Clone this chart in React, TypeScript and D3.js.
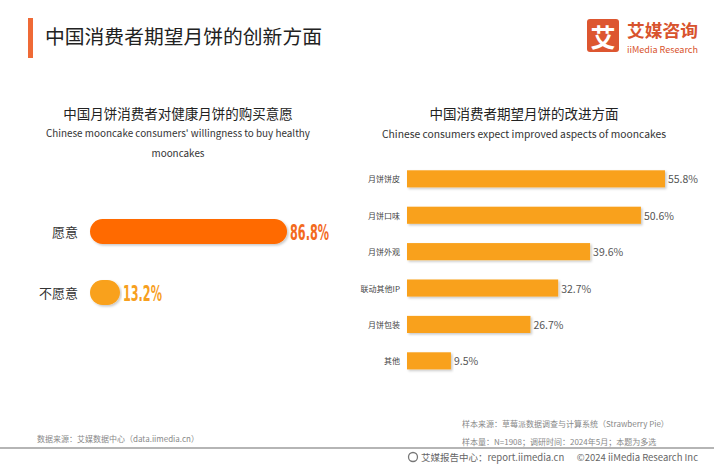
import * as d3 from "d3";

const willingCats = ["愿意", "不愿意"];
const willingVals = [86.8, 13.2];
const willingColors = ["#FF6B06", "#F9A11B"];
const willingTextColors = ["#F36A1E", "#F7A01E"];

const aspectCats = ["月饼饼皮", "月饼口味", "月饼外观", "联动其他IP", "月饼包装", "其他"];
const aspectVals = [55.8, 50.6, 39.6, 32.7, 26.7, 9.5];

const FONT = "'Noto Sans CJK SC', 'Noto Sans', sans-serif";
const W = 714;
const H = 464;

export default function App() {
  // left chart scales
  const xL = d3.scaleLinear().domain([0, 100]).range([90, 317]);
  const yL = d3.scalePoint<string>().domain(willingCats).range([231.5, 292.5]);
  const barH = 25;

  // right chart scales
  const xR = d3.scaleLinear().domain([0, 60]).range([407, 407 + 277.4]);
  const yR = d3
    .scaleBand<string>()
    .domain(aspectCats)
    .range([151, 151 + 36.4 * 6.53])
    .padding(0.53);

  return (
    <div style={{ position: "fixed", left: 0, top: 0 }}>
      <svg width={W} height={H} style={{ display: "block", fontFamily: FONT }}>
        <defs>
          <filter id="shadow" x="-5%" y="-30%" width="110%" height="180%">
            <feDropShadow dx="1.5" dy="1.5" stdDeviation="1.2" floodColor="#000" floodOpacity="0.22" />
          </filter>
        </defs>
        <rect width={W} height={H} fill="#fff" />

        {/* header */}
        <rect x={28} y={18} width={5} height={40} fill="#EF6A36" />
        <text x={45} y={35} dominantBaseline="central" fontSize={19.8} fill="#222">
          中国消费者期望月饼的创新方面
        </text>

        {/* logo */}
        <rect x={587} y={19} width={32} height={33} rx={3} fill="#DD5630" />
        <text x={603} y={36} textAnchor="middle" dominantBaseline="central" fontSize={25} fontWeight={700} fill="#fff">
          艾
        </text>
        <text x={627} y={29.5} dominantBaseline="central" fontSize={16.5} fontWeight={700} fill="#D8532D" textLength={71} lengthAdjust="spacingAndGlyphs">
          艾媒咨询
        </text>
        <text x={627} y={49.5} dominantBaseline="central" fontSize={9} fill="#D8532D" textLength={71} lengthAdjust="spacingAndGlyphs">
          iiMedia Research
        </text>

        {/* left subtitles */}
        <text x={178} y={113} textAnchor="middle" dominantBaseline="central" fontSize={13.5} fill="#222">
          中国月饼消费者对健康月饼的购买意愿
        </text>
        <text x={178} y={133} textAnchor="middle" dominantBaseline="central" fontSize={9.9} fill="#333">
          Chinese mooncake consumers' willingness to buy healthy
        </text>
        <text x={178} y={153} textAnchor="middle" dominantBaseline="central" fontSize={9.9} fill="#333">
          mooncakes
        </text>

        {/* right subtitles */}
        <text x={524} y={113} textAnchor="middle" dominantBaseline="central" fontSize={13.5} fill="#222">
          中国消费者期望月饼的改进方面
        </text>
        <text x={524} y={133} textAnchor="middle" dominantBaseline="central" fontSize={10.3} fill="#333">
          Chinese consumers expect improved aspects of mooncakes
        </text>

        {/* left chart */}
        {willingCats.map((c, i) => {
          const cy = yL(c) ?? 0;
          const w = xL(willingVals[i]) - xL(0);
          const label = `${willingVals[i].toFixed(1)}%`;
          return (
            <g key={c}>
              <text x={78} y={cy} textAnchor="end" dominantBaseline="central" fontSize={13} fill="#333">
                {c}
              </text>
              <rect
                x={xL(0)}
                y={cy - barH / 2}
                width={w}
                height={barH}
                rx={barH / 2}
                fill={willingColors[i]}
                filter="url(#shadow)"
              />
              <text
                x={xL(willingVals[i]) + 3}
                y={cy + 1}
                dominantBaseline="central"
                fontSize={22}
                fontWeight={700}
                fontFamily="'Liberation Sans Narrow', 'DejaVu Sans Condensed', sans-serif"
                fill={willingTextColors[i]}
                textLength={label.length * 7.8}
                lengthAdjust="spacingAndGlyphs"
              >
                {label}
              </text>
            </g>
          );
        })}

        {/* right chart */}
        {aspectCats.map((c, i) => {
          const y0 = yR(c) ?? 0;
          const cy = y0 + yR.bandwidth() / 2;
          return (
            <g key={c}>
              <text x={400} y={cy} textAnchor="end" dominantBaseline="central" fontSize={8} fill="#444">
                {c}
              </text>
              <rect
                x={xR(0)}
                y={y0}
                width={xR(aspectVals[i]) - xR(0)}
                height={yR.bandwidth()}
                fill="#F9A11B"
                filter="url(#shadow)"
              />
              <text x={xR(aspectVals[i]) + 3} y={cy} dominantBaseline="central" fontSize={10.5} fill="#555">
                {`${aspectVals[i].toFixed(1)}%`}
              </text>
            </g>
          );
        })}

        {/* footer */}
        <text x={37} y={438} dominantBaseline="central" fontSize={8} fill="#888">
          数据来源：艾媒数据中心（data.iimedia.cn）
        </text>
        <text x={462} y={423} dominantBaseline="central" fontSize={8} fill="#888">
          样本来源：草莓派数据调查与计算系统（Strawberry Pie）
        </text>
        <text x={462} y={441} dominantBaseline="central" fontSize={8} fill="#888">
          样本量：N=1908；调研时间：2024年5月；本题为多选
        </text>
        <rect x={0} y={447} width={W} height={2} fill="#B5B5B5" />
        <circle cx={413} cy={457} r={4.5} fill="none" stroke="#777" strokeWidth={1.3} />
        <text x={421} y={457} dominantBaseline="central" fontSize={9.5} fill="#666">
          艾媒报告中心：report.iimedia.cn
        </text>
        <text x={698} y={457} textAnchor="end" dominantBaseline="central" fontSize={9.5} fill="#666">
          ©2024  iiMedia Research Inc
        </text>
      </svg>
    </div>
  );
}
